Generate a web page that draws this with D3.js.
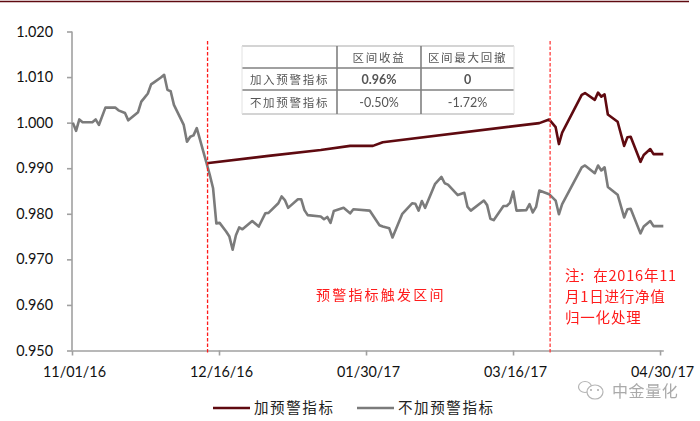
<!DOCTYPE html>
<html><head><meta charset="utf-8">
<script src="https://cdnjs.cloudflare.com/ajax/libs/d3/7.8.5/d3.min.js"></script>
<style>html,body{margin:0;padding:0;background:#fff}svg{display:block}</style>
</head><body><svg id="c" width="700" height="421"></svg>
<script>
// days since 2016-11-01
const greyDays=[0,1,2,3,6,7,8,10,13,14,16,17,20,21,22,23,24,25,27,28,29,30,31,34,35,36,37,38,41,42,43,44,45,47,48,49,50,51,52,55,57,59,60,63,64,65,66,69,70,71,72,76,77,78,79,80,83,85,86,91,94,95,97,98,101,104,105,106,107,108,111,113,114,115,118,120,121,122,126,127,128,129,132,133,134,135,136,139,140,141,142,143,146,148,149,150,156,157,160,161,162,163,164,167,169,170,171,174,175,177,178,181];
const greyValues=[1.0000,.9982,1.0007,1.0001,1.0001,1.0007,.9995,1.0033,1.0033,1.0027,1.0021,1.0005,1.0023,1.0046,1.0055,1.0064,1.0084,1.0089,1.0099,1.0105,1.0072,1.0069,1.0039,.9995,.9958,.9969,.9972,.9988,.9911,.9885,.9856,.9779,.9780,.9761,.9750,.9721,.9753,.9770,.9766,.9784,.9772,.9801,.9802,.9823,.9838,.9830,.9813,.9832,.9832,.9808,.9797,.9794,.9788,.9793,.9780,.9806,.9813,.9801,.9810,.9807,.9775,.9772,.9768,.9748,.9800,.9823,.9822,.9807,.9828,.9813,.9865,.9881,.9867,.9864,.9841,.9846,.9815,.9807,.9829,.9819,.9789,.9786,.9817,.9817,.9824,.9849,.9807,.9808,.9821,.9803,.9815,.9851,.9843,.9829,.9799,.9821,.9902,.9906,.9889,.9906,.9895,.9902,.9859,.9842,.9792,.9810,.9811,.9757,.9772,.9784,.9773,.9773];
const redDays=[41,60,76,85,92,95,143,146,148,149,150,156,157,160,161,162,163,164,167,169,170,171,174,175,177,178,181];
const redValues=[.9911,.9927,.9940,.9949,.9949,.9957,.9999,1.0007,.9990,.9953,.9978,1.0061,1.0065,1.0050,1.0066,1.0057,1.0062,1.0018,1.0002,.9949,.9968,.9969,.9914,.9929,.9942,.9931,.9931];
const yTicks=[1.02,1.01,1.0,.99,.98,.97,.96,.95];
const xTickDays=[0,45,90,135,180];
const xTickLabels=["11/01/16","12/16/16","01/30/17","03/16/17","04/30/17"];
const triggerDays=[41,146];
const seriesNames=["加预警指标","不加预警指标"];
const tableHead=["","区间收益","区间最大回撤"];
const tableRows=[["加入预警指标","0.96%","0"],["不加预警指标","-0.50%","-1.72%"]];
const zoneLabel="预警指标触发区间";
const noteLines=["注:  在2016年11","月1日进行净值","归一化处理"];
const watermark="中金量化";

const RED="#5f0a10",GREY="#7b7b7b",LRED="#ff1a1a",AX="#a0a0a0";
const CJK='"Noto Sans CJK SC","Noto Sans",sans-serif';
const LAT='Lato,"Open Sans",sans-serif';
const svg=d3.select("#c");
const defs=svg.append("defs");
defs.append("filter").attr("id","soft").append("feGaussianBlur").attr("stdDeviation",.45);
defs.append("filter").attr("id","soft2").append("feGaussianBlur").attr("stdDeviation",.3);

svg.append("line").attr("x1",0).attr("x2",689).attr("y1",1.5).attr("y2",1.5).attr("stroke",RED).attr("stroke-width",1.6);

const x=d3.scaleLinear().domain([0,181]).range([72,663.3]);
const xPlot=d3.scaleLinear().domain([0,181]).range([72.8,663.3]);
const y=d3.scaleLinear().domain([.95,1.02]).range([350.5,31.5]);

// axes
const ax=svg.append("g").attr("transform","translate(72,0)").call(d3.axisLeft(y).tickValues(yTicks).tickFormat(d3.format(".3f")).tickSize(5).tickPadding(14));
const bx=svg.append("g").attr("transform","translate(0,350.5)").call(d3.axisBottom(x).tickValues(xTickDays).tickFormat((d,i)=>xTickLabels[i]).tickSize(5).tickSizeOuter(0).tickPadding(11));
[ax,bx].forEach(g=>{
  g.selectAll("path,line").attr("stroke",AX).attr("stroke-width",1.6);
  g.selectAll("text").attr("font-family",LAT).attr("font-size",14.4).attr("fill","#111");
});
bx.selectAll("text").attr("dx",2);
ax.select("path").attr("d","M0,31.5V350.5");

// lines
const line=d3.line().x(d=>xPlot(d[0])).y(d=>y(d[1]));
const plot=(days,vals,col)=>svg.append("path").datum(days.map((d,i)=>[d,vals[i]])).attr("d",line).attr("fill","none").attr("stroke",col).attr("stroke-width",2.6).attr("stroke-linejoin","round");
plot(redDays,redValues,RED);
plot(greyDays,greyValues,GREY);

// trigger markers
svg.selectAll(".trig").data(triggerDays).join("line").attr("class","trig")
  .attr("x1",d=>xPlot(d)+1).attr("x2",d=>xPlot(d)+1).attr("y1",41).attr("y2",354)
  .attr("stroke",(d,i)=>i?"#ff3b3b":LRED).attr("stroke-width",1.3).attr("stroke-dasharray","3.5 2");

// inset table
const colX=[242,337,421,514],rowY=[46,68,90,114];
const tbl=svg.append("g").attr("filter","url(#soft)");
tbl.selectAll(".h").data(rowY).join("line").attr("x1",242).attr("x2",514).attr("y1",d=>d).attr("y2",d=>d)
  .attr("stroke",(d,i)=>(i==0||i==3)?"#d4d4d4":"#808080").attr("stroke-width",(d,i)=>(i==0||i==3)?2:1.6);
tbl.selectAll(".v").data(colX).join("line").attr("x1",d=>d).attr("x2",d=>d).attr("y1",46).attr("y2",114)
  .attr("stroke",(d,i)=>(i==0||i==3)?"#e2e2e2":"#808080").attr("stroke-width",(d,i)=>(i==0||i==3)?1:1.6);
[tableHead,...tableRows].forEach((row,r)=>row.forEach((t,c)=>{
  const latin=/^[-0-9.%]+$/.test(t);
  tbl.append("text").attr("x",(colX[c]+colX[c+1])/2).attr("y",(rowY[r]+rowY[r+1])/2+4.5)
    .attr("text-anchor","middle").attr("fill","#555")
    .attr("font-family",latin?LAT:CJK).attr("font-size",latin?12.5:11.5)
    .attr("letter-spacing",latin?0:1.7).attr("font-weight",(latin&&r==1)?700:400).text(t);
}));

// red annotations
const ann=svg.append("g").attr("filter","url(#soft2)").attr("fill",LRED).attr("font-family",CJK);
ann.append("text").attr("x",316).attr("y",300).attr("font-size",14).attr("letter-spacing",2.2).text(zoneLabel);
ann.selectAll(".n").data(noteLines).join("text").attr("x",565).attr("y",(d,i)=>281+i*21).attr("font-size",14.5).attr("letter-spacing",.8).attr("xml:space","preserve").style("white-space","pre").text(d=>d);

// legend
const lg=svg.append("g").attr("font-family",CJK).attr("font-size",14.5).attr("letter-spacing",1.6).attr("fill","#222");
[[213,RED,254],[357,GREY,398]].forEach((p,i)=>{
  lg.append("line").attr("x1",p[0]).attr("x2",p[0]+37).attr("y1",408).attr("y2",408).attr("stroke",p[1]).attr("stroke-width",2.4);
  lg.append("text").attr("x",p[2]).attr("y",413).text(seriesNames[i]);
});

// watermark
const wm=svg.append("g").attr("filter","url(#soft2)");
wm.append("ellipse").attr("cx",585).attr("cy",387).attr("rx",6.5).attr("ry",5.5).attr("fill","#fff").attr("stroke","#b5b5b5").attr("stroke-width",1.2);
wm.append("ellipse").attr("cx",595).attr("cy",392).attr("rx",8).attr("ry",7).attr("fill","#fff").attr("stroke","#b5b5b5").attr("stroke-width",1.2);
wm.selectAll(".e").data([[591,390],[598,390]]).join("circle").attr("cx",d=>d[0]).attr("cy",d=>d[1]).attr("r",1).attr("fill","#aaa");
wm.append("text").attr("x",612).attr("y",397).attr("font-family",CJK).attr("font-size",16).attr("letter-spacing",.6).attr("fill","#aaa").text(watermark);
</script></body></html>
